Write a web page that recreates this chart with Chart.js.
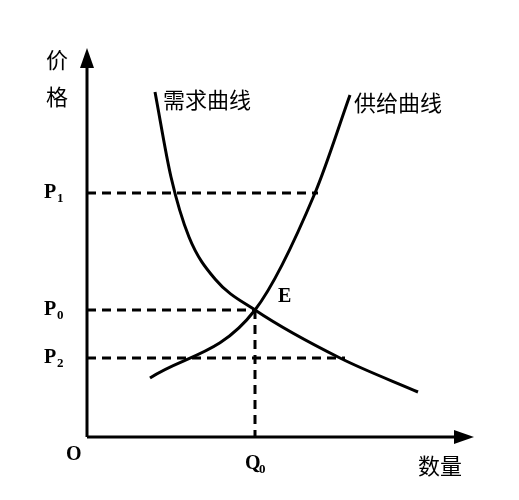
<!DOCTYPE html>
<html><head><meta charset="utf-8">
<script src="https://cdn.jsdelivr.net/npm/chart.js@4"></script>
<style>body{margin:0;background:#fff}#wrap{width:519px;height:500px}</style>
</head><body><div id="wrap"><canvas id="myChart"></canvas></div>
<script>
// curve points (quantity, price)
const demandQ = [68, 84, 102, 128, 168, 253, 331];
const demandP = [345, 260, 200, 158, 127, 79, 45];
const supplyQ = [63, 168, 228, 263];
const supplyP = [59, 127, 244, 342];
const priceLevels = [244, 127, 79];
const priceNames = ["1", "0", "2"];
const priceEnds = [231, 168, 258];
const q0 = 168;

function pts(xs, ys){ return xs.map((x, i) => ({x: x, y: ys[i]})); }

const datasets = [
  {data: pts(demandQ, demandP), borderColor: '#000', borderWidth: 3, pointRadius: 0, cubicInterpolationMode: 'monotone'},
  {data: pts(supplyQ, supplyP), borderColor: '#000', borderWidth: 3, pointRadius: 0, cubicInterpolationMode: 'monotone'}
];
priceLevels.forEach((p, i) => {
  datasets.push({data: [{x: 0, y: p}, {x: priceEnds[i], y: p}], borderColor: '#000', borderWidth: 3, borderDash: [9, 6], pointRadius: 0});
});
datasets.push({data: [{x: q0, y: priceLevels[1]}, {x: q0, y: 0}], borderColor: '#000', borderWidth: 3, borderDash: [9, 6], pointRadius: 0});

const labelsPlugin = {
  id: 'labels',
  afterDraw(chart){
    const c = chart.ctx, xs = chart.scales.x, ys = chart.scales.y;
    const ox = xs.getPixelForValue(0), oy = ys.getPixelForValue(0);
    c.save();
    c.strokeStyle = '#000'; c.fillStyle = '#000'; c.lineWidth = 3;
    c.beginPath(); c.moveTo(ox, oy); c.lineTo(ox, 62); c.moveTo(ox, oy); c.lineTo(462, oy); c.stroke();
    c.beginPath(); c.moveTo(ox, 48); c.lineTo(ox - 7, 68); c.lineTo(ox + 7, 68); c.closePath(); c.fill();
    c.beginPath(); c.moveTo(474, oy); c.lineTo(454, oy - 7); c.lineTo(454, oy + 7); c.closePath(); c.fill();

    c.font = '22px "Noto Sans CJK SC"'; c.textBaseline = 'middle'; c.textAlign = 'left';
    c.fillText('价', 46, 60); c.fillText('格', 46, 97);
    c.fillText('需求曲线', 163, 100);
    c.fillText('供给曲线', 354, 103);
    c.fillText('数量', 418, 466);

    c.font = 'bold 20px "Liberation Serif"';
    c.fillText('O', 66, 455);
    c.fillText('E', 278, 297);
    priceLevels.forEach((p, i) => {
      const y = ys.getPixelForValue(p);
      c.font = 'bold 20px "Liberation Serif"'; c.fillText('P', 44, y);
      c.font = 'bold 13px "Liberation Serif"'; c.fillText(priceNames[i], 57, y + 6);
    });
    const qx = xs.getPixelForValue(q0);
    c.font = 'bold 20px "Liberation Serif"'; c.fillText('Q', qx - 10, 464);
    c.font = 'bold 13px "Liberation Serif"'; c.fillText('0', qx + 4, 470);
    c.restore();
  }
};

new Chart(document.getElementById('myChart'), {
  type: 'line',
  data: {datasets: datasets},
  options: {
    responsive: true, maintainAspectRatio: false, animation: false,
    layout: {padding: {left: 87, right: 32, top: 37, bottom: 63}},
    plugins: {legend: {display: false}, tooltip: {enabled: false}},
    scales: {
      x: {type: 'linear', min: 0, max: 400, display: false},
      y: {type: 'linear', min: 0, max: 400, display: false}
    }
  },
  plugins: [labelsPlugin]
});
</script></body></html>
